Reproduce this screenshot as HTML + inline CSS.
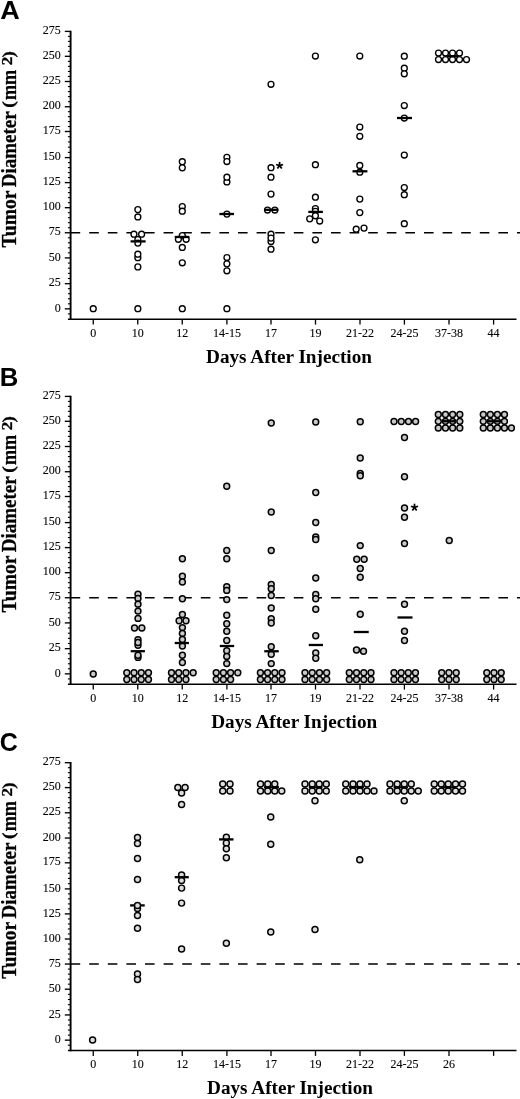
<!DOCTYPE html>
<html><head><meta charset="utf-8"><title>Tumor diameter vs days after injection</title>
<style>
html,body{margin:0;padding:0;background:#fff;}
body{width:520px;height:1099px;overflow:hidden;font-family:"Liberation Serif",serif;}
svg{display:block;filter:grayscale(1);}
.tk{font-family:"Liberation Serif",serif;font-size:12px;fill:#000;stroke:#000;stroke-width:0.1px;}
.xt{font-family:"Liberation Serif",serif;font-weight:bold;font-size:19.2px;fill:#000;}
.yt{font-family:"Liberation Serif",serif;font-weight:bold;fill:#000;stroke:#000;stroke-width:0.3px;}
.pl{font-family:"Liberation Sans",sans-serif;font-weight:bold;font-size:25px;fill:#000;}
.st{font-family:"Liberation Sans",sans-serif;font-weight:bold;font-size:16px;fill:#000;}
</style></head>
<body>
<svg width="520" height="1099" viewBox="0 0 520 1099">
<rect width="520" height="1099" fill="#fff"/>
<g transform="translate(0,0)">
<line x1="70.6" y1="30.7" x2="70.6" y2="320.0" stroke="#000" stroke-width="1.9"/>
<line x1="67.9" y1="319.3" x2="516.5" y2="319.3" stroke="#000" stroke-width="1.45"/>
<line x1="64.8" y1="308.85" x2="70.6" y2="308.85" stroke="#000" stroke-width="1.35"/>
<text x="60.8" y="311.55" text-anchor="end" class="tk">0</text>
<line x1="67.9" y1="303.81" x2="70.6" y2="303.81" stroke="#000" stroke-width="1.1"/>
<line x1="67.9" y1="298.77" x2="70.6" y2="298.77" stroke="#000" stroke-width="1.1"/>
<line x1="67.9" y1="293.73" x2="70.6" y2="293.73" stroke="#000" stroke-width="1.1"/>
<line x1="67.9" y1="288.69" x2="70.6" y2="288.69" stroke="#000" stroke-width="1.1"/>
<line x1="64.8" y1="283.65" x2="70.6" y2="283.65" stroke="#000" stroke-width="1.35"/>
<text x="60.8" y="286.35" text-anchor="end" class="tk">25</text>
<line x1="67.9" y1="278.50" x2="70.6" y2="278.50" stroke="#000" stroke-width="1.1"/>
<line x1="67.9" y1="273.35" x2="70.6" y2="273.35" stroke="#000" stroke-width="1.1"/>
<line x1="67.9" y1="268.20" x2="70.6" y2="268.20" stroke="#000" stroke-width="1.1"/>
<line x1="67.9" y1="263.05" x2="70.6" y2="263.05" stroke="#000" stroke-width="1.1"/>
<line x1="64.8" y1="257.90" x2="70.6" y2="257.90" stroke="#000" stroke-width="1.35"/>
<text x="60.8" y="260.60" text-anchor="end" class="tk">50</text>
<line x1="67.9" y1="252.87" x2="70.6" y2="252.87" stroke="#000" stroke-width="1.1"/>
<line x1="67.9" y1="247.84" x2="70.6" y2="247.84" stroke="#000" stroke-width="1.1"/>
<line x1="67.9" y1="242.81" x2="70.6" y2="242.81" stroke="#000" stroke-width="1.1"/>
<line x1="67.9" y1="237.78" x2="70.6" y2="237.78" stroke="#000" stroke-width="1.1"/>
<line x1="64.8" y1="232.75" x2="70.6" y2="232.75" stroke="#000" stroke-width="1.35"/>
<text x="60.8" y="235.45" text-anchor="end" class="tk">75</text>
<line x1="67.9" y1="227.74" x2="70.6" y2="227.74" stroke="#000" stroke-width="1.1"/>
<line x1="67.9" y1="222.73" x2="70.6" y2="222.73" stroke="#000" stroke-width="1.1"/>
<line x1="67.9" y1="217.72" x2="70.6" y2="217.72" stroke="#000" stroke-width="1.1"/>
<line x1="67.9" y1="212.71" x2="70.6" y2="212.71" stroke="#000" stroke-width="1.1"/>
<line x1="64.8" y1="207.70" x2="70.6" y2="207.70" stroke="#000" stroke-width="1.35"/>
<text x="60.8" y="210.40" text-anchor="end" class="tk">100</text>
<line x1="67.9" y1="202.68" x2="70.6" y2="202.68" stroke="#000" stroke-width="1.1"/>
<line x1="67.9" y1="197.66" x2="70.6" y2="197.66" stroke="#000" stroke-width="1.1"/>
<line x1="67.9" y1="192.64" x2="70.6" y2="192.64" stroke="#000" stroke-width="1.1"/>
<line x1="67.9" y1="187.62" x2="70.6" y2="187.62" stroke="#000" stroke-width="1.1"/>
<line x1="64.8" y1="182.60" x2="70.6" y2="182.60" stroke="#000" stroke-width="1.35"/>
<text x="60.8" y="185.30" text-anchor="end" class="tk">125</text>
<line x1="67.9" y1="177.60" x2="70.6" y2="177.60" stroke="#000" stroke-width="1.1"/>
<line x1="67.9" y1="172.60" x2="70.6" y2="172.60" stroke="#000" stroke-width="1.1"/>
<line x1="67.9" y1="167.60" x2="70.6" y2="167.60" stroke="#000" stroke-width="1.1"/>
<line x1="67.9" y1="162.60" x2="70.6" y2="162.60" stroke="#000" stroke-width="1.1"/>
<line x1="64.8" y1="157.60" x2="70.6" y2="157.60" stroke="#000" stroke-width="1.35"/>
<text x="60.8" y="160.30" text-anchor="end" class="tk">150</text>
<line x1="67.9" y1="152.38" x2="70.6" y2="152.38" stroke="#000" stroke-width="1.1"/>
<line x1="67.9" y1="147.16" x2="70.6" y2="147.16" stroke="#000" stroke-width="1.1"/>
<line x1="67.9" y1="141.94" x2="70.6" y2="141.94" stroke="#000" stroke-width="1.1"/>
<line x1="67.9" y1="136.72" x2="70.6" y2="136.72" stroke="#000" stroke-width="1.1"/>
<line x1="64.8" y1="131.50" x2="70.6" y2="131.50" stroke="#000" stroke-width="1.35"/>
<text x="60.8" y="134.20" text-anchor="end" class="tk">175</text>
<line x1="67.9" y1="126.55" x2="70.6" y2="126.55" stroke="#000" stroke-width="1.1"/>
<line x1="67.9" y1="121.60" x2="70.6" y2="121.60" stroke="#000" stroke-width="1.1"/>
<line x1="67.9" y1="116.65" x2="70.6" y2="116.65" stroke="#000" stroke-width="1.1"/>
<line x1="67.9" y1="111.70" x2="70.6" y2="111.70" stroke="#000" stroke-width="1.1"/>
<line x1="64.8" y1="106.75" x2="70.6" y2="106.75" stroke="#000" stroke-width="1.35"/>
<text x="60.8" y="109.45" text-anchor="end" class="tk">200</text>
<line x1="67.9" y1="101.70" x2="70.6" y2="101.70" stroke="#000" stroke-width="1.1"/>
<line x1="67.9" y1="96.65" x2="70.6" y2="96.65" stroke="#000" stroke-width="1.1"/>
<line x1="67.9" y1="91.60" x2="70.6" y2="91.60" stroke="#000" stroke-width="1.1"/>
<line x1="67.9" y1="86.55" x2="70.6" y2="86.55" stroke="#000" stroke-width="1.1"/>
<line x1="64.8" y1="81.50" x2="70.6" y2="81.50" stroke="#000" stroke-width="1.35"/>
<text x="60.8" y="84.20" text-anchor="end" class="tk">225</text>
<line x1="67.9" y1="76.46" x2="70.6" y2="76.46" stroke="#000" stroke-width="1.1"/>
<line x1="67.9" y1="71.42" x2="70.6" y2="71.42" stroke="#000" stroke-width="1.1"/>
<line x1="67.9" y1="66.38" x2="70.6" y2="66.38" stroke="#000" stroke-width="1.1"/>
<line x1="67.9" y1="61.34" x2="70.6" y2="61.34" stroke="#000" stroke-width="1.1"/>
<line x1="64.8" y1="56.30" x2="70.6" y2="56.30" stroke="#000" stroke-width="1.35"/>
<text x="60.8" y="59.00" text-anchor="end" class="tk">250</text>
<line x1="67.9" y1="51.32" x2="70.6" y2="51.32" stroke="#000" stroke-width="1.1"/>
<line x1="67.9" y1="46.34" x2="70.6" y2="46.34" stroke="#000" stroke-width="1.1"/>
<line x1="67.9" y1="41.36" x2="70.6" y2="41.36" stroke="#000" stroke-width="1.1"/>
<line x1="67.9" y1="36.38" x2="70.6" y2="36.38" stroke="#000" stroke-width="1.1"/>
<line x1="64.8" y1="31.40" x2="70.6" y2="31.40" stroke="#000" stroke-width="1.35"/>
<text x="60.8" y="34.10" text-anchor="end" class="tk">275</text>
<line x1="67.9" y1="313.89" x2="70.6" y2="313.89" stroke="#000" stroke-width="1.1"/>
<line x1="93.25" y1="319.3" x2="93.25" y2="324.6" stroke="#000" stroke-width="1.3"/>
<text x="93.25" y="336.7" text-anchor="middle" class="tk" font-size="12.3">0</text>
<line x1="137.75" y1="319.3" x2="137.75" y2="324.6" stroke="#000" stroke-width="1.3"/>
<text x="137.75" y="336.7" text-anchor="middle" class="tk" font-size="12.3">10</text>
<line x1="182.25" y1="319.3" x2="182.25" y2="324.6" stroke="#000" stroke-width="1.3"/>
<text x="182.25" y="336.7" text-anchor="middle" class="tk" font-size="12.3">12</text>
<line x1="226.9" y1="319.3" x2="226.9" y2="324.6" stroke="#000" stroke-width="1.3"/>
<text x="226.9" y="336.7" text-anchor="middle" class="tk" font-size="12.3">14-15</text>
<line x1="271.0" y1="319.3" x2="271.0" y2="324.6" stroke="#000" stroke-width="1.3"/>
<text x="271.0" y="336.7" text-anchor="middle" class="tk" font-size="12.3">17</text>
<line x1="315.5" y1="319.3" x2="315.5" y2="324.6" stroke="#000" stroke-width="1.3"/>
<text x="315.5" y="336.7" text-anchor="middle" class="tk" font-size="12.3">19</text>
<line x1="360.0" y1="319.3" x2="360.0" y2="324.6" stroke="#000" stroke-width="1.3"/>
<text x="360.0" y="336.7" text-anchor="middle" class="tk" font-size="12.3">21-22</text>
<line x1="404.4" y1="319.3" x2="404.4" y2="324.6" stroke="#000" stroke-width="1.3"/>
<text x="404.4" y="336.7" text-anchor="middle" class="tk" font-size="12.3">24-25</text>
<line x1="449.0" y1="319.3" x2="449.0" y2="324.6" stroke="#000" stroke-width="1.3"/>
<text x="449.0" y="336.7" text-anchor="middle" class="tk" font-size="12.3">37-38</text>
<line x1="493.6" y1="319.3" x2="493.6" y2="324.6" stroke="#000" stroke-width="1.3"/>
<text x="493.6" y="336.7" text-anchor="middle" class="tk" font-size="12.3">44</text>
<line x1="70.6" y1="232.7" x2="520" y2="232.7" stroke="#000" stroke-width="1.5" stroke-dasharray="9.6 9.0"/>
<text x="289" y="363" text-anchor="middle" class="xt">Days After Injection</text>
<text transform="translate(15.90,247.46) rotate(-90) scale(0.9563,1.0)" class="yt" font-size="20.5">Tumor</text>
<text transform="translate(15.90,187.15) rotate(-90) scale(0.9246,1.0)" class="yt" font-size="20.5">Diameter</text>
<text transform="translate(14.22,107.64) rotate(-90) scale(0.9542,0.8655)" class="yt" font-size="20.5">(</text>
<text transform="translate(15.90,100.04) rotate(-90) scale(0.8872,1.0)" class="yt" font-size="20.5">mm</text>
<text transform="translate(12.40,65.15) rotate(-90) scale(1.2153,1.06)" class="yt" font-size="14">2</text>
<text transform="translate(14.22,57.38) rotate(-90) scale(0.9316,0.8655)" class="yt" font-size="20.5">)</text>
</g>
<text transform="translate(0.2,19.30) scale(1.08,1)" class="pl">A</text>
<g transform="translate(0,0)">
</g>
<g transform="translate(0,0)" stroke="#000" stroke-width="1.35">
<circle cx="93.25" cy="308.70" r="2.95" fill="#fff"/>
<circle cx="137.85" cy="209.60" r="2.95" fill="#fff"/>
<circle cx="137.85" cy="216.90" r="2.95" fill="#fff"/>
<circle cx="133.95" cy="234.15" r="2.95" fill="#fff"/>
<circle cx="141.60" cy="234.15" r="2.95" fill="#fff"/>
<circle cx="137.85" cy="239.60" r="2.95" fill="#fff"/>
<circle cx="137.85" cy="243.10" r="2.95" fill="#fff"/>
<circle cx="137.85" cy="257.70" r="2.95" fill="#fff"/>
<circle cx="137.85" cy="254.20" r="2.95" fill="#fff"/>
<circle cx="137.85" cy="266.90" r="2.95" fill="#fff"/>
<circle cx="137.85" cy="308.70" r="2.95" fill="#fff"/>
<circle cx="182.30" cy="161.70" r="2.95" fill="#fff"/>
<circle cx="182.30" cy="167.85" r="2.95" fill="#fff"/>
<circle cx="182.30" cy="206.50" r="2.95" fill="#fff"/>
<circle cx="182.30" cy="211.15" r="2.95" fill="#fff"/>
<circle cx="182.30" cy="235.50" r="2.95" fill="#fff"/>
<circle cx="178.40" cy="239.30" r="2.95" fill="#fff"/>
<circle cx="186.15" cy="239.30" r="2.95" fill="#fff"/>
<circle cx="182.30" cy="247.40" r="2.95" fill="#fff"/>
<circle cx="182.30" cy="262.80" r="2.95" fill="#fff"/>
<circle cx="182.30" cy="308.70" r="2.95" fill="#fff"/>
<circle cx="226.90" cy="157.30" r="2.95" fill="#fff"/>
<circle cx="226.90" cy="161.50" r="2.95" fill="#fff"/>
<circle cx="226.90" cy="181.90" r="2.95" fill="#fff"/>
<circle cx="226.90" cy="177.15" r="2.95" fill="#fff"/>
<circle cx="226.90" cy="214.10" r="2.95" fill="#fff"/>
<circle cx="226.90" cy="257.50" r="2.95" fill="#fff"/>
<circle cx="226.90" cy="263.85" r="2.95" fill="#fff"/>
<circle cx="226.90" cy="270.80" r="2.95" fill="#fff"/>
<circle cx="226.90" cy="308.70" r="2.95" fill="#fff"/>
<circle cx="271.00" cy="84.30" r="2.95" fill="#fff"/>
<circle cx="271.00" cy="167.65" r="2.95" fill="#fff"/>
<circle cx="271.00" cy="177.20" r="2.95" fill="#fff"/>
<circle cx="271.00" cy="194.10" r="2.95" fill="#fff"/>
<circle cx="267.50" cy="210.00" r="2.95" fill="#fff"/>
<circle cx="274.85" cy="210.00" r="2.95" fill="#fff"/>
<circle cx="271.00" cy="234.20" r="2.95" fill="#fff"/>
<circle cx="271.00" cy="241.50" r="2.95" fill="#fff"/>
<circle cx="271.00" cy="238.10" r="2.95" fill="#fff"/>
<circle cx="271.00" cy="249.20" r="2.95" fill="#fff"/>
<circle cx="315.40" cy="56.00" r="2.95" fill="#fff"/>
<circle cx="315.40" cy="164.70" r="2.95" fill="#fff"/>
<circle cx="315.40" cy="197.15" r="2.95" fill="#fff"/>
<circle cx="315.40" cy="208.60" r="2.95" fill="#fff"/>
<circle cx="315.40" cy="211.30" r="2.95" fill="#fff"/>
<circle cx="309.70" cy="218.85" r="2.95" fill="#fff"/>
<circle cx="319.70" cy="221.00" r="2.95" fill="#fff"/>
<circle cx="315.40" cy="215.80" r="2.95" fill="#fff"/>
<circle cx="315.40" cy="239.80" r="2.95" fill="#fff"/>
<circle cx="359.80" cy="56.00" r="2.95" fill="#fff"/>
<circle cx="359.80" cy="127.00" r="2.95" fill="#fff"/>
<circle cx="359.80" cy="136.30" r="2.95" fill="#fff"/>
<circle cx="359.80" cy="172.20" r="2.95" fill="#fff"/>
<circle cx="359.80" cy="165.40" r="2.95" fill="#fff"/>
<circle cx="359.80" cy="199.10" r="2.95" fill="#fff"/>
<circle cx="359.80" cy="212.60" r="2.95" fill="#fff"/>
<circle cx="356.20" cy="229.20" r="2.95" fill="#fff"/>
<circle cx="364.00" cy="228.10" r="2.95" fill="#fff"/>
<circle cx="404.30" cy="56.20" r="2.95" fill="#fff"/>
<circle cx="404.30" cy="68.20" r="2.95" fill="#fff"/>
<circle cx="404.30" cy="73.80" r="2.95" fill="#fff"/>
<circle cx="404.30" cy="105.50" r="2.95" fill="#fff"/>
<circle cx="404.30" cy="118.00" r="2.95" fill="#fff"/>
<circle cx="404.30" cy="155.00" r="2.95" fill="#fff"/>
<circle cx="404.30" cy="187.50" r="2.95" fill="#fff"/>
<circle cx="404.30" cy="194.70" r="2.95" fill="#fff"/>
<circle cx="404.30" cy="223.70" r="2.95" fill="#fff"/>
<circle cx="438.50" cy="53.00" r="2.95" fill="#fff"/>
<circle cx="445.50" cy="53.00" r="2.95" fill="#fff"/>
<circle cx="452.50" cy="53.00" r="2.95" fill="#fff"/>
<circle cx="459.50" cy="53.00" r="2.95" fill="#fff"/>
<circle cx="438.50" cy="59.50" r="2.95" fill="#fff"/>
<circle cx="445.50" cy="59.50" r="2.95" fill="#fff"/>
<circle cx="452.50" cy="59.50" r="2.95" fill="#fff"/>
<circle cx="459.50" cy="59.50" r="2.95" fill="#fff"/>
<circle cx="466.50" cy="59.50" r="2.95" fill="#fff"/>
</g>
<g transform="translate(0,0)">
<line x1="130.60" y1="241.40" x2="145.60" y2="241.40" stroke="#000" stroke-width="2.3"/>
<line x1="174.70" y1="237.00" x2="189.40" y2="237.00" stroke="#000" stroke-width="2.3"/>
<line x1="219.40" y1="214.00" x2="234.00" y2="214.00" stroke="#000" stroke-width="2.3"/>
<line x1="264.50" y1="209.80" x2="278.40" y2="209.80" stroke="#000" stroke-width="2.3"/>
<line x1="308.30" y1="211.90" x2="322.90" y2="211.90" stroke="#000" stroke-width="2.3"/>
<line x1="352.50" y1="171.30" x2="367.40" y2="171.30" stroke="#000" stroke-width="2.3"/>
<line x1="397.00" y1="118.00" x2="412.00" y2="118.00" stroke="#000" stroke-width="2.3"/>
<line x1="447.00" y1="56.20" x2="458.00" y2="56.20" stroke="#000" stroke-width="2.3"/>
<line x1="279.60" y1="165.60" x2="279.60" y2="161.90" stroke="#000" stroke-width="1.75" stroke-linecap="butt"/>
<line x1="279.60" y1="165.60" x2="283.12" y2="164.46" stroke="#000" stroke-width="1.75" stroke-linecap="butt"/>
<line x1="279.60" y1="165.60" x2="281.77" y2="168.59" stroke="#000" stroke-width="1.75" stroke-linecap="butt"/>
<line x1="279.60" y1="165.60" x2="277.43" y2="168.59" stroke="#000" stroke-width="1.75" stroke-linecap="butt"/>
<line x1="279.60" y1="165.60" x2="276.08" y2="164.46" stroke="#000" stroke-width="1.75" stroke-linecap="butt"/>
</g>
<g transform="translate(0,365.0)">
<line x1="70.6" y1="30.7" x2="70.6" y2="320.0" stroke="#000" stroke-width="1.9"/>
<line x1="67.9" y1="319.3" x2="516.5" y2="319.3" stroke="#000" stroke-width="1.45"/>
<line x1="64.8" y1="308.85" x2="70.6" y2="308.85" stroke="#000" stroke-width="1.35"/>
<text x="60.8" y="311.55" text-anchor="end" class="tk">0</text>
<line x1="67.9" y1="303.81" x2="70.6" y2="303.81" stroke="#000" stroke-width="1.1"/>
<line x1="67.9" y1="298.77" x2="70.6" y2="298.77" stroke="#000" stroke-width="1.1"/>
<line x1="67.9" y1="293.73" x2="70.6" y2="293.73" stroke="#000" stroke-width="1.1"/>
<line x1="67.9" y1="288.69" x2="70.6" y2="288.69" stroke="#000" stroke-width="1.1"/>
<line x1="64.8" y1="283.65" x2="70.6" y2="283.65" stroke="#000" stroke-width="1.35"/>
<text x="60.8" y="286.35" text-anchor="end" class="tk">25</text>
<line x1="67.9" y1="278.50" x2="70.6" y2="278.50" stroke="#000" stroke-width="1.1"/>
<line x1="67.9" y1="273.35" x2="70.6" y2="273.35" stroke="#000" stroke-width="1.1"/>
<line x1="67.9" y1="268.20" x2="70.6" y2="268.20" stroke="#000" stroke-width="1.1"/>
<line x1="67.9" y1="263.05" x2="70.6" y2="263.05" stroke="#000" stroke-width="1.1"/>
<line x1="64.8" y1="257.90" x2="70.6" y2="257.90" stroke="#000" stroke-width="1.35"/>
<text x="60.8" y="260.60" text-anchor="end" class="tk">50</text>
<line x1="67.9" y1="252.87" x2="70.6" y2="252.87" stroke="#000" stroke-width="1.1"/>
<line x1="67.9" y1="247.84" x2="70.6" y2="247.84" stroke="#000" stroke-width="1.1"/>
<line x1="67.9" y1="242.81" x2="70.6" y2="242.81" stroke="#000" stroke-width="1.1"/>
<line x1="67.9" y1="237.78" x2="70.6" y2="237.78" stroke="#000" stroke-width="1.1"/>
<line x1="64.8" y1="232.75" x2="70.6" y2="232.75" stroke="#000" stroke-width="1.35"/>
<text x="60.8" y="235.45" text-anchor="end" class="tk">75</text>
<line x1="67.9" y1="227.74" x2="70.6" y2="227.74" stroke="#000" stroke-width="1.1"/>
<line x1="67.9" y1="222.73" x2="70.6" y2="222.73" stroke="#000" stroke-width="1.1"/>
<line x1="67.9" y1="217.72" x2="70.6" y2="217.72" stroke="#000" stroke-width="1.1"/>
<line x1="67.9" y1="212.71" x2="70.6" y2="212.71" stroke="#000" stroke-width="1.1"/>
<line x1="64.8" y1="207.70" x2="70.6" y2="207.70" stroke="#000" stroke-width="1.35"/>
<text x="60.8" y="210.40" text-anchor="end" class="tk">100</text>
<line x1="67.9" y1="202.68" x2="70.6" y2="202.68" stroke="#000" stroke-width="1.1"/>
<line x1="67.9" y1="197.66" x2="70.6" y2="197.66" stroke="#000" stroke-width="1.1"/>
<line x1="67.9" y1="192.64" x2="70.6" y2="192.64" stroke="#000" stroke-width="1.1"/>
<line x1="67.9" y1="187.62" x2="70.6" y2="187.62" stroke="#000" stroke-width="1.1"/>
<line x1="64.8" y1="182.60" x2="70.6" y2="182.60" stroke="#000" stroke-width="1.35"/>
<text x="60.8" y="185.30" text-anchor="end" class="tk">125</text>
<line x1="67.9" y1="177.60" x2="70.6" y2="177.60" stroke="#000" stroke-width="1.1"/>
<line x1="67.9" y1="172.60" x2="70.6" y2="172.60" stroke="#000" stroke-width="1.1"/>
<line x1="67.9" y1="167.60" x2="70.6" y2="167.60" stroke="#000" stroke-width="1.1"/>
<line x1="67.9" y1="162.60" x2="70.6" y2="162.60" stroke="#000" stroke-width="1.1"/>
<line x1="64.8" y1="157.60" x2="70.6" y2="157.60" stroke="#000" stroke-width="1.35"/>
<text x="60.8" y="160.30" text-anchor="end" class="tk">150</text>
<line x1="67.9" y1="152.38" x2="70.6" y2="152.38" stroke="#000" stroke-width="1.1"/>
<line x1="67.9" y1="147.16" x2="70.6" y2="147.16" stroke="#000" stroke-width="1.1"/>
<line x1="67.9" y1="141.94" x2="70.6" y2="141.94" stroke="#000" stroke-width="1.1"/>
<line x1="67.9" y1="136.72" x2="70.6" y2="136.72" stroke="#000" stroke-width="1.1"/>
<line x1="64.8" y1="131.50" x2="70.6" y2="131.50" stroke="#000" stroke-width="1.35"/>
<text x="60.8" y="134.20" text-anchor="end" class="tk">175</text>
<line x1="67.9" y1="126.55" x2="70.6" y2="126.55" stroke="#000" stroke-width="1.1"/>
<line x1="67.9" y1="121.60" x2="70.6" y2="121.60" stroke="#000" stroke-width="1.1"/>
<line x1="67.9" y1="116.65" x2="70.6" y2="116.65" stroke="#000" stroke-width="1.1"/>
<line x1="67.9" y1="111.70" x2="70.6" y2="111.70" stroke="#000" stroke-width="1.1"/>
<line x1="64.8" y1="106.75" x2="70.6" y2="106.75" stroke="#000" stroke-width="1.35"/>
<text x="60.8" y="109.45" text-anchor="end" class="tk">200</text>
<line x1="67.9" y1="101.70" x2="70.6" y2="101.70" stroke="#000" stroke-width="1.1"/>
<line x1="67.9" y1="96.65" x2="70.6" y2="96.65" stroke="#000" stroke-width="1.1"/>
<line x1="67.9" y1="91.60" x2="70.6" y2="91.60" stroke="#000" stroke-width="1.1"/>
<line x1="67.9" y1="86.55" x2="70.6" y2="86.55" stroke="#000" stroke-width="1.1"/>
<line x1="64.8" y1="81.50" x2="70.6" y2="81.50" stroke="#000" stroke-width="1.35"/>
<text x="60.8" y="84.20" text-anchor="end" class="tk">225</text>
<line x1="67.9" y1="76.46" x2="70.6" y2="76.46" stroke="#000" stroke-width="1.1"/>
<line x1="67.9" y1="71.42" x2="70.6" y2="71.42" stroke="#000" stroke-width="1.1"/>
<line x1="67.9" y1="66.38" x2="70.6" y2="66.38" stroke="#000" stroke-width="1.1"/>
<line x1="67.9" y1="61.34" x2="70.6" y2="61.34" stroke="#000" stroke-width="1.1"/>
<line x1="64.8" y1="56.30" x2="70.6" y2="56.30" stroke="#000" stroke-width="1.35"/>
<text x="60.8" y="59.00" text-anchor="end" class="tk">250</text>
<line x1="67.9" y1="51.32" x2="70.6" y2="51.32" stroke="#000" stroke-width="1.1"/>
<line x1="67.9" y1="46.34" x2="70.6" y2="46.34" stroke="#000" stroke-width="1.1"/>
<line x1="67.9" y1="41.36" x2="70.6" y2="41.36" stroke="#000" stroke-width="1.1"/>
<line x1="67.9" y1="36.38" x2="70.6" y2="36.38" stroke="#000" stroke-width="1.1"/>
<line x1="64.8" y1="31.40" x2="70.6" y2="31.40" stroke="#000" stroke-width="1.35"/>
<text x="60.8" y="34.10" text-anchor="end" class="tk">275</text>
<line x1="67.9" y1="313.89" x2="70.6" y2="313.89" stroke="#000" stroke-width="1.1"/>
<line x1="93.25" y1="319.3" x2="93.25" y2="324.6" stroke="#000" stroke-width="1.3"/>
<text x="93.25" y="336.7" text-anchor="middle" class="tk" font-size="12.3">0</text>
<line x1="137.75" y1="319.3" x2="137.75" y2="324.6" stroke="#000" stroke-width="1.3"/>
<text x="137.75" y="336.7" text-anchor="middle" class="tk" font-size="12.3">10</text>
<line x1="182.25" y1="319.3" x2="182.25" y2="324.6" stroke="#000" stroke-width="1.3"/>
<text x="182.25" y="336.7" text-anchor="middle" class="tk" font-size="12.3">12</text>
<line x1="226.9" y1="319.3" x2="226.9" y2="324.6" stroke="#000" stroke-width="1.3"/>
<text x="226.9" y="336.7" text-anchor="middle" class="tk" font-size="12.3">14-15</text>
<line x1="271.0" y1="319.3" x2="271.0" y2="324.6" stroke="#000" stroke-width="1.3"/>
<text x="271.0" y="336.7" text-anchor="middle" class="tk" font-size="12.3">17</text>
<line x1="315.5" y1="319.3" x2="315.5" y2="324.6" stroke="#000" stroke-width="1.3"/>
<text x="315.5" y="336.7" text-anchor="middle" class="tk" font-size="12.3">19</text>
<line x1="360.0" y1="319.3" x2="360.0" y2="324.6" stroke="#000" stroke-width="1.3"/>
<text x="360.0" y="336.7" text-anchor="middle" class="tk" font-size="12.3">21-22</text>
<line x1="404.4" y1="319.3" x2="404.4" y2="324.6" stroke="#000" stroke-width="1.3"/>
<text x="404.4" y="336.7" text-anchor="middle" class="tk" font-size="12.3">24-25</text>
<line x1="449.0" y1="319.3" x2="449.0" y2="324.6" stroke="#000" stroke-width="1.3"/>
<text x="449.0" y="336.7" text-anchor="middle" class="tk" font-size="12.3">37-38</text>
<line x1="493.6" y1="319.3" x2="493.6" y2="324.6" stroke="#000" stroke-width="1.3"/>
<text x="493.6" y="336.7" text-anchor="middle" class="tk" font-size="12.3">44</text>
<line x1="70.6" y1="232.7" x2="520" y2="232.7" stroke="#000" stroke-width="1.5" stroke-dasharray="9.6 9.0"/>
<text x="294.2" y="363" text-anchor="middle" class="xt">Days After Injection</text>
<text transform="translate(15.90,247.46) rotate(-90) scale(0.9563,1.0)" class="yt" font-size="20.5">Tumor</text>
<text transform="translate(15.90,187.15) rotate(-90) scale(0.9246,1.0)" class="yt" font-size="20.5">Diameter</text>
<text transform="translate(14.22,107.64) rotate(-90) scale(0.9542,0.8655)" class="yt" font-size="20.5">(</text>
<text transform="translate(15.90,100.04) rotate(-90) scale(0.8872,1.0)" class="yt" font-size="20.5">mm</text>
<text transform="translate(12.40,65.15) rotate(-90) scale(1.2153,1.06)" class="yt" font-size="14">2</text>
<text transform="translate(14.22,57.38) rotate(-90) scale(0.9316,0.8655)" class="yt" font-size="20.5">)</text>
</g>
<text transform="translate(-0.3,385.70) scale(1.03,1)" class="pl">B</text>
<g transform="translate(0,365.5)">
</g>
<g transform="translate(0,365.5)" stroke="#000" stroke-width="1.5">
<circle cx="93.25" cy="308.50" r="2.95" fill="#cacaca"/>
<circle cx="138.00" cy="228.65" r="2.95" fill="#cacaca"/>
<circle cx="138.00" cy="232.90" r="2.95" fill="#cacaca"/>
<circle cx="138.00" cy="238.65" r="2.95" fill="#cacaca"/>
<circle cx="138.00" cy="245.60" r="2.95" fill="#cacaca"/>
<circle cx="138.00" cy="252.90" r="2.95" fill="#cacaca"/>
<circle cx="134.50" cy="262.50" r="2.95" fill="#cacaca"/>
<circle cx="141.85" cy="262.50" r="2.95" fill="#cacaca"/>
<circle cx="138.00" cy="274.10" r="2.95" fill="#cacaca"/>
<circle cx="138.00" cy="279.80" r="2.95" fill="#cacaca"/>
<circle cx="138.00" cy="277.00" r="2.95" fill="#cacaca"/>
<circle cx="138.00" cy="291.90" r="2.95" fill="#cacaca"/>
<circle cx="138.00" cy="289.80" r="2.95" fill="#cacaca"/>
<circle cx="126.80" cy="307.20" r="2.95" fill="#cacaca"/>
<circle cx="134.02" cy="307.20" r="2.95" fill="#cacaca"/>
<circle cx="141.24" cy="307.20" r="2.95" fill="#cacaca"/>
<circle cx="148.46" cy="307.20" r="2.95" fill="#cacaca"/>
<circle cx="126.80" cy="314.05" r="2.95" fill="#cacaca"/>
<circle cx="134.02" cy="314.05" r="2.95" fill="#cacaca"/>
<circle cx="141.24" cy="314.05" r="2.95" fill="#cacaca"/>
<circle cx="148.46" cy="314.05" r="2.95" fill="#cacaca"/>
<circle cx="182.40" cy="193.25" r="2.95" fill="#cacaca"/>
<circle cx="182.40" cy="210.75" r="2.95" fill="#cacaca"/>
<circle cx="182.40" cy="216.50" r="2.95" fill="#cacaca"/>
<circle cx="182.40" cy="233.30" r="2.95" fill="#cacaca"/>
<circle cx="182.40" cy="249.00" r="2.95" fill="#cacaca"/>
<circle cx="179.10" cy="255.20" r="2.95" fill="#cacaca"/>
<circle cx="186.00" cy="255.20" r="2.95" fill="#cacaca"/>
<circle cx="182.40" cy="262.10" r="2.95" fill="#cacaca"/>
<circle cx="182.40" cy="267.90" r="2.95" fill="#cacaca"/>
<circle cx="182.40" cy="274.00" r="2.95" fill="#cacaca"/>
<circle cx="182.40" cy="280.60" r="2.95" fill="#cacaca"/>
<circle cx="182.40" cy="289.80" r="2.95" fill="#cacaca"/>
<circle cx="182.40" cy="297.00" r="2.95" fill="#cacaca"/>
<circle cx="171.50" cy="307.20" r="2.95" fill="#cacaca"/>
<circle cx="178.72" cy="307.20" r="2.95" fill="#cacaca"/>
<circle cx="185.94" cy="307.20" r="2.95" fill="#cacaca"/>
<circle cx="193.16" cy="307.20" r="2.95" fill="#cacaca"/>
<circle cx="171.50" cy="314.05" r="2.95" fill="#cacaca"/>
<circle cx="178.72" cy="314.05" r="2.95" fill="#cacaca"/>
<circle cx="185.94" cy="314.05" r="2.95" fill="#cacaca"/>
<circle cx="226.75" cy="120.75" r="2.95" fill="#cacaca"/>
<circle cx="226.75" cy="185.00" r="2.95" fill="#cacaca"/>
<circle cx="226.75" cy="193.25" r="2.95" fill="#cacaca"/>
<circle cx="226.75" cy="221.30" r="2.95" fill="#cacaca"/>
<circle cx="226.75" cy="224.90" r="2.95" fill="#cacaca"/>
<circle cx="226.75" cy="234.10" r="2.95" fill="#cacaca"/>
<circle cx="226.75" cy="249.70" r="2.95" fill="#cacaca"/>
<circle cx="226.75" cy="258.30" r="2.95" fill="#cacaca"/>
<circle cx="226.75" cy="265.70" r="2.95" fill="#cacaca"/>
<circle cx="226.75" cy="274.90" r="2.95" fill="#cacaca"/>
<circle cx="226.75" cy="285.30" r="2.95" fill="#cacaca"/>
<circle cx="226.75" cy="290.90" r="2.95" fill="#cacaca"/>
<circle cx="226.75" cy="298.10" r="2.95" fill="#cacaca"/>
<circle cx="216.20" cy="307.20" r="2.95" fill="#cacaca"/>
<circle cx="223.40" cy="307.20" r="2.95" fill="#cacaca"/>
<circle cx="230.60" cy="307.20" r="2.95" fill="#cacaca"/>
<circle cx="237.80" cy="307.20" r="2.95" fill="#cacaca"/>
<circle cx="216.20" cy="314.05" r="2.95" fill="#cacaca"/>
<circle cx="223.40" cy="314.05" r="2.95" fill="#cacaca"/>
<circle cx="230.60" cy="314.05" r="2.95" fill="#cacaca"/>
<circle cx="271.25" cy="57.50" r="2.95" fill="#cacaca"/>
<circle cx="271.25" cy="146.50" r="2.95" fill="#cacaca"/>
<circle cx="271.25" cy="185.00" r="2.95" fill="#cacaca"/>
<circle cx="271.25" cy="219.00" r="2.95" fill="#cacaca"/>
<circle cx="271.25" cy="223.25" r="2.95" fill="#cacaca"/>
<circle cx="271.25" cy="230.00" r="2.95" fill="#cacaca"/>
<circle cx="271.25" cy="242.50" r="2.95" fill="#cacaca"/>
<circle cx="271.25" cy="253.25" r="2.95" fill="#cacaca"/>
<circle cx="271.25" cy="257.50" r="2.95" fill="#cacaca"/>
<circle cx="271.25" cy="281.20" r="2.95" fill="#cacaca"/>
<circle cx="271.25" cy="288.70" r="2.95" fill="#cacaca"/>
<circle cx="271.25" cy="298.10" r="2.95" fill="#cacaca"/>
<circle cx="260.40" cy="307.20" r="2.95" fill="#cacaca"/>
<circle cx="267.60" cy="307.20" r="2.95" fill="#cacaca"/>
<circle cx="274.80" cy="307.20" r="2.95" fill="#cacaca"/>
<circle cx="282.00" cy="307.20" r="2.95" fill="#cacaca"/>
<circle cx="260.40" cy="314.05" r="2.95" fill="#cacaca"/>
<circle cx="267.60" cy="314.05" r="2.95" fill="#cacaca"/>
<circle cx="274.80" cy="314.05" r="2.95" fill="#cacaca"/>
<circle cx="282.00" cy="314.05" r="2.95" fill="#cacaca"/>
<circle cx="315.75" cy="56.50" r="2.95" fill="#cacaca"/>
<circle cx="315.75" cy="127.00" r="2.95" fill="#cacaca"/>
<circle cx="315.75" cy="157.00" r="2.95" fill="#cacaca"/>
<circle cx="315.75" cy="171.50" r="2.95" fill="#cacaca"/>
<circle cx="315.75" cy="174.00" r="2.95" fill="#cacaca"/>
<circle cx="315.75" cy="212.50" r="2.95" fill="#cacaca"/>
<circle cx="315.75" cy="229.00" r="2.95" fill="#cacaca"/>
<circle cx="315.75" cy="233.25" r="2.95" fill="#cacaca"/>
<circle cx="315.75" cy="243.75" r="2.95" fill="#cacaca"/>
<circle cx="315.75" cy="270.25" r="2.95" fill="#cacaca"/>
<circle cx="315.75" cy="287.50" r="2.95" fill="#cacaca"/>
<circle cx="315.75" cy="292.75" r="2.95" fill="#cacaca"/>
<circle cx="305.00" cy="307.20" r="2.95" fill="#cacaca"/>
<circle cx="312.22" cy="307.20" r="2.95" fill="#cacaca"/>
<circle cx="319.44" cy="307.20" r="2.95" fill="#cacaca"/>
<circle cx="326.66" cy="307.20" r="2.95" fill="#cacaca"/>
<circle cx="305.00" cy="314.05" r="2.95" fill="#cacaca"/>
<circle cx="312.22" cy="314.05" r="2.95" fill="#cacaca"/>
<circle cx="319.44" cy="314.05" r="2.95" fill="#cacaca"/>
<circle cx="326.66" cy="314.05" r="2.95" fill="#cacaca"/>
<circle cx="360.25" cy="56.25" r="2.95" fill="#cacaca"/>
<circle cx="360.25" cy="92.50" r="2.95" fill="#cacaca"/>
<circle cx="360.25" cy="108.00" r="2.95" fill="#cacaca"/>
<circle cx="360.25" cy="110.25" r="2.95" fill="#cacaca"/>
<circle cx="360.25" cy="180.10" r="2.95" fill="#cacaca"/>
<circle cx="356.75" cy="193.75" r="2.95" fill="#cacaca"/>
<circle cx="364.15" cy="193.75" r="2.95" fill="#cacaca"/>
<circle cx="360.25" cy="203.00" r="2.95" fill="#cacaca"/>
<circle cx="360.25" cy="211.70" r="2.95" fill="#cacaca"/>
<circle cx="360.25" cy="248.75" r="2.95" fill="#cacaca"/>
<circle cx="356.50" cy="284.50" r="2.95" fill="#cacaca"/>
<circle cx="363.50" cy="285.75" r="2.95" fill="#cacaca"/>
<circle cx="349.30" cy="307.20" r="2.95" fill="#cacaca"/>
<circle cx="356.53" cy="307.20" r="2.95" fill="#cacaca"/>
<circle cx="363.76" cy="307.20" r="2.95" fill="#cacaca"/>
<circle cx="370.99" cy="307.20" r="2.95" fill="#cacaca"/>
<circle cx="349.30" cy="314.05" r="2.95" fill="#cacaca"/>
<circle cx="356.53" cy="314.05" r="2.95" fill="#cacaca"/>
<circle cx="363.76" cy="314.05" r="2.95" fill="#cacaca"/>
<circle cx="370.99" cy="314.05" r="2.95" fill="#cacaca"/>
<circle cx="404.50" cy="72.00" r="2.95" fill="#cacaca"/>
<circle cx="404.50" cy="111.25" r="2.95" fill="#cacaca"/>
<circle cx="404.50" cy="142.50" r="2.95" fill="#cacaca"/>
<circle cx="404.50" cy="151.75" r="2.95" fill="#cacaca"/>
<circle cx="404.50" cy="178.00" r="2.95" fill="#cacaca"/>
<circle cx="404.50" cy="238.75" r="2.95" fill="#cacaca"/>
<circle cx="404.50" cy="265.75" r="2.95" fill="#cacaca"/>
<circle cx="404.50" cy="275.00" r="2.95" fill="#cacaca"/>
<circle cx="394.00" cy="56.00" r="2.95" fill="#cacaca"/>
<circle cx="401.25" cy="56.00" r="2.95" fill="#cacaca"/>
<circle cx="408.50" cy="56.00" r="2.95" fill="#cacaca"/>
<circle cx="415.60" cy="56.00" r="2.95" fill="#cacaca"/>
<circle cx="394.00" cy="307.20" r="2.95" fill="#cacaca"/>
<circle cx="401.15" cy="307.20" r="2.95" fill="#cacaca"/>
<circle cx="408.30" cy="307.20" r="2.95" fill="#cacaca"/>
<circle cx="415.45" cy="307.20" r="2.95" fill="#cacaca"/>
<circle cx="394.00" cy="314.05" r="2.95" fill="#cacaca"/>
<circle cx="401.15" cy="314.05" r="2.95" fill="#cacaca"/>
<circle cx="408.30" cy="314.05" r="2.95" fill="#cacaca"/>
<circle cx="415.45" cy="314.05" r="2.95" fill="#cacaca"/>
<circle cx="438.30" cy="49.00" r="2.95" fill="#cacaca"/>
<circle cx="445.47" cy="49.00" r="2.95" fill="#cacaca"/>
<circle cx="452.64" cy="49.00" r="2.95" fill="#cacaca"/>
<circle cx="459.81" cy="49.00" r="2.95" fill="#cacaca"/>
<circle cx="438.30" cy="55.85" r="2.95" fill="#cacaca"/>
<circle cx="445.47" cy="55.85" r="2.95" fill="#cacaca"/>
<circle cx="452.64" cy="55.85" r="2.95" fill="#cacaca"/>
<circle cx="459.81" cy="55.85" r="2.95" fill="#cacaca"/>
<circle cx="438.30" cy="62.50" r="2.95" fill="#cacaca"/>
<circle cx="445.47" cy="62.50" r="2.95" fill="#cacaca"/>
<circle cx="452.64" cy="62.50" r="2.95" fill="#cacaca"/>
<circle cx="459.81" cy="62.50" r="2.95" fill="#cacaca"/>
<circle cx="449.25" cy="175.00" r="2.95" fill="#cacaca"/>
<circle cx="441.70" cy="307.20" r="2.95" fill="#cacaca"/>
<circle cx="448.95" cy="307.20" r="2.95" fill="#cacaca"/>
<circle cx="456.20" cy="307.20" r="2.95" fill="#cacaca"/>
<circle cx="441.70" cy="314.05" r="2.95" fill="#cacaca"/>
<circle cx="448.95" cy="314.05" r="2.95" fill="#cacaca"/>
<circle cx="456.20" cy="314.05" r="2.95" fill="#cacaca"/>
<circle cx="483.30" cy="49.00" r="2.95" fill="#cacaca"/>
<circle cx="490.35" cy="49.00" r="2.95" fill="#cacaca"/>
<circle cx="497.40" cy="49.00" r="2.95" fill="#cacaca"/>
<circle cx="504.45" cy="49.00" r="2.95" fill="#cacaca"/>
<circle cx="483.30" cy="55.85" r="2.95" fill="#cacaca"/>
<circle cx="490.35" cy="55.85" r="2.95" fill="#cacaca"/>
<circle cx="497.40" cy="55.85" r="2.95" fill="#cacaca"/>
<circle cx="504.45" cy="55.85" r="2.95" fill="#cacaca"/>
<circle cx="483.30" cy="62.50" r="2.95" fill="#cacaca"/>
<circle cx="490.35" cy="62.50" r="2.95" fill="#cacaca"/>
<circle cx="497.40" cy="62.50" r="2.95" fill="#cacaca"/>
<circle cx="504.45" cy="62.50" r="2.95" fill="#cacaca"/>
<circle cx="511.40" cy="62.50" r="2.95" fill="#cacaca"/>
<circle cx="486.80" cy="307.20" r="2.95" fill="#cacaca"/>
<circle cx="494.00" cy="307.20" r="2.95" fill="#cacaca"/>
<circle cx="501.20" cy="307.20" r="2.95" fill="#cacaca"/>
<circle cx="486.80" cy="314.05" r="2.95" fill="#cacaca"/>
<circle cx="494.00" cy="314.05" r="2.95" fill="#cacaca"/>
<circle cx="501.20" cy="314.05" r="2.95" fill="#cacaca"/>
</g>
<g transform="translate(0,365.5)">
<line x1="130.70" y1="285.70" x2="144.90" y2="285.70" stroke="#000" stroke-width="2.3"/>
<line x1="174.70" y1="277.50" x2="188.90" y2="277.50" stroke="#000" stroke-width="2.3"/>
<line x1="219.80" y1="280.50" x2="234.20" y2="280.50" stroke="#000" stroke-width="2.3"/>
<line x1="264.25" y1="285.75" x2="278.75" y2="285.75" stroke="#000" stroke-width="2.3"/>
<line x1="308.75" y1="279.50" x2="323.00" y2="279.50" stroke="#000" stroke-width="2.3"/>
<line x1="353.75" y1="266.50" x2="368.75" y2="266.50" stroke="#000" stroke-width="2.3"/>
<line x1="397.50" y1="252.00" x2="412.50" y2="252.00" stroke="#000" stroke-width="2.3"/>
<line x1="442.50" y1="55.75" x2="456.00" y2="55.75" stroke="#000" stroke-width="2.3"/>
<line x1="487.50" y1="55.75" x2="501.00" y2="55.75" stroke="#000" stroke-width="2.3"/>
<line x1="414.50" y1="141.90" x2="414.50" y2="138.20" stroke="#000" stroke-width="1.75" stroke-linecap="butt"/>
<line x1="414.50" y1="141.90" x2="418.02" y2="140.76" stroke="#000" stroke-width="1.75" stroke-linecap="butt"/>
<line x1="414.50" y1="141.90" x2="416.67" y2="144.89" stroke="#000" stroke-width="1.75" stroke-linecap="butt"/>
<line x1="414.50" y1="141.90" x2="412.33" y2="144.89" stroke="#000" stroke-width="1.75" stroke-linecap="butt"/>
<line x1="414.50" y1="141.90" x2="410.98" y2="140.76" stroke="#000" stroke-width="1.75" stroke-linecap="butt"/>
</g>
<g transform="translate(0,731.3)">
<line x1="70.6" y1="30.7" x2="70.6" y2="320.0" stroke="#000" stroke-width="1.9"/>
<line x1="67.9" y1="319.3" x2="516.5" y2="319.3" stroke="#000" stroke-width="1.45"/>
<line x1="64.8" y1="308.85" x2="70.6" y2="308.85" stroke="#000" stroke-width="1.35"/>
<text x="60.8" y="311.55" text-anchor="end" class="tk">0</text>
<line x1="67.9" y1="303.81" x2="70.6" y2="303.81" stroke="#000" stroke-width="1.1"/>
<line x1="67.9" y1="298.77" x2="70.6" y2="298.77" stroke="#000" stroke-width="1.1"/>
<line x1="67.9" y1="293.73" x2="70.6" y2="293.73" stroke="#000" stroke-width="1.1"/>
<line x1="67.9" y1="288.69" x2="70.6" y2="288.69" stroke="#000" stroke-width="1.1"/>
<line x1="64.8" y1="283.65" x2="70.6" y2="283.65" stroke="#000" stroke-width="1.35"/>
<text x="60.8" y="286.35" text-anchor="end" class="tk">25</text>
<line x1="67.9" y1="278.50" x2="70.6" y2="278.50" stroke="#000" stroke-width="1.1"/>
<line x1="67.9" y1="273.35" x2="70.6" y2="273.35" stroke="#000" stroke-width="1.1"/>
<line x1="67.9" y1="268.20" x2="70.6" y2="268.20" stroke="#000" stroke-width="1.1"/>
<line x1="67.9" y1="263.05" x2="70.6" y2="263.05" stroke="#000" stroke-width="1.1"/>
<line x1="64.8" y1="257.90" x2="70.6" y2="257.90" stroke="#000" stroke-width="1.35"/>
<text x="60.8" y="260.60" text-anchor="end" class="tk">50</text>
<line x1="67.9" y1="252.87" x2="70.6" y2="252.87" stroke="#000" stroke-width="1.1"/>
<line x1="67.9" y1="247.84" x2="70.6" y2="247.84" stroke="#000" stroke-width="1.1"/>
<line x1="67.9" y1="242.81" x2="70.6" y2="242.81" stroke="#000" stroke-width="1.1"/>
<line x1="67.9" y1="237.78" x2="70.6" y2="237.78" stroke="#000" stroke-width="1.1"/>
<line x1="64.8" y1="232.75" x2="70.6" y2="232.75" stroke="#000" stroke-width="1.35"/>
<text x="60.8" y="235.45" text-anchor="end" class="tk">75</text>
<line x1="67.9" y1="227.74" x2="70.6" y2="227.74" stroke="#000" stroke-width="1.1"/>
<line x1="67.9" y1="222.73" x2="70.6" y2="222.73" stroke="#000" stroke-width="1.1"/>
<line x1="67.9" y1="217.72" x2="70.6" y2="217.72" stroke="#000" stroke-width="1.1"/>
<line x1="67.9" y1="212.71" x2="70.6" y2="212.71" stroke="#000" stroke-width="1.1"/>
<line x1="64.8" y1="207.70" x2="70.6" y2="207.70" stroke="#000" stroke-width="1.35"/>
<text x="60.8" y="210.40" text-anchor="end" class="tk">100</text>
<line x1="67.9" y1="202.68" x2="70.6" y2="202.68" stroke="#000" stroke-width="1.1"/>
<line x1="67.9" y1="197.66" x2="70.6" y2="197.66" stroke="#000" stroke-width="1.1"/>
<line x1="67.9" y1="192.64" x2="70.6" y2="192.64" stroke="#000" stroke-width="1.1"/>
<line x1="67.9" y1="187.62" x2="70.6" y2="187.62" stroke="#000" stroke-width="1.1"/>
<line x1="64.8" y1="182.60" x2="70.6" y2="182.60" stroke="#000" stroke-width="1.35"/>
<text x="60.8" y="185.30" text-anchor="end" class="tk">125</text>
<line x1="67.9" y1="177.60" x2="70.6" y2="177.60" stroke="#000" stroke-width="1.1"/>
<line x1="67.9" y1="172.60" x2="70.6" y2="172.60" stroke="#000" stroke-width="1.1"/>
<line x1="67.9" y1="167.60" x2="70.6" y2="167.60" stroke="#000" stroke-width="1.1"/>
<line x1="67.9" y1="162.60" x2="70.6" y2="162.60" stroke="#000" stroke-width="1.1"/>
<line x1="64.8" y1="157.60" x2="70.6" y2="157.60" stroke="#000" stroke-width="1.35"/>
<text x="60.8" y="160.30" text-anchor="end" class="tk">150</text>
<line x1="67.9" y1="152.38" x2="70.6" y2="152.38" stroke="#000" stroke-width="1.1"/>
<line x1="67.9" y1="147.16" x2="70.6" y2="147.16" stroke="#000" stroke-width="1.1"/>
<line x1="67.9" y1="141.94" x2="70.6" y2="141.94" stroke="#000" stroke-width="1.1"/>
<line x1="67.9" y1="136.72" x2="70.6" y2="136.72" stroke="#000" stroke-width="1.1"/>
<line x1="64.8" y1="131.50" x2="70.6" y2="131.50" stroke="#000" stroke-width="1.35"/>
<text x="60.8" y="134.20" text-anchor="end" class="tk">175</text>
<line x1="67.9" y1="126.55" x2="70.6" y2="126.55" stroke="#000" stroke-width="1.1"/>
<line x1="67.9" y1="121.60" x2="70.6" y2="121.60" stroke="#000" stroke-width="1.1"/>
<line x1="67.9" y1="116.65" x2="70.6" y2="116.65" stroke="#000" stroke-width="1.1"/>
<line x1="67.9" y1="111.70" x2="70.6" y2="111.70" stroke="#000" stroke-width="1.1"/>
<line x1="64.8" y1="106.75" x2="70.6" y2="106.75" stroke="#000" stroke-width="1.35"/>
<text x="60.8" y="109.45" text-anchor="end" class="tk">200</text>
<line x1="67.9" y1="101.70" x2="70.6" y2="101.70" stroke="#000" stroke-width="1.1"/>
<line x1="67.9" y1="96.65" x2="70.6" y2="96.65" stroke="#000" stroke-width="1.1"/>
<line x1="67.9" y1="91.60" x2="70.6" y2="91.60" stroke="#000" stroke-width="1.1"/>
<line x1="67.9" y1="86.55" x2="70.6" y2="86.55" stroke="#000" stroke-width="1.1"/>
<line x1="64.8" y1="81.50" x2="70.6" y2="81.50" stroke="#000" stroke-width="1.35"/>
<text x="60.8" y="84.20" text-anchor="end" class="tk">225</text>
<line x1="67.9" y1="76.46" x2="70.6" y2="76.46" stroke="#000" stroke-width="1.1"/>
<line x1="67.9" y1="71.42" x2="70.6" y2="71.42" stroke="#000" stroke-width="1.1"/>
<line x1="67.9" y1="66.38" x2="70.6" y2="66.38" stroke="#000" stroke-width="1.1"/>
<line x1="67.9" y1="61.34" x2="70.6" y2="61.34" stroke="#000" stroke-width="1.1"/>
<line x1="64.8" y1="56.30" x2="70.6" y2="56.30" stroke="#000" stroke-width="1.35"/>
<text x="60.8" y="59.00" text-anchor="end" class="tk">250</text>
<line x1="67.9" y1="51.32" x2="70.6" y2="51.32" stroke="#000" stroke-width="1.1"/>
<line x1="67.9" y1="46.34" x2="70.6" y2="46.34" stroke="#000" stroke-width="1.1"/>
<line x1="67.9" y1="41.36" x2="70.6" y2="41.36" stroke="#000" stroke-width="1.1"/>
<line x1="67.9" y1="36.38" x2="70.6" y2="36.38" stroke="#000" stroke-width="1.1"/>
<line x1="64.8" y1="31.40" x2="70.6" y2="31.40" stroke="#000" stroke-width="1.35"/>
<text x="60.8" y="34.10" text-anchor="end" class="tk">275</text>
<line x1="67.9" y1="313.89" x2="70.6" y2="313.89" stroke="#000" stroke-width="1.1"/>
<line x1="93.25" y1="319.3" x2="93.25" y2="324.6" stroke="#000" stroke-width="1.3"/>
<text x="93.25" y="336.7" text-anchor="middle" class="tk" font-size="12.3">0</text>
<line x1="137.75" y1="319.3" x2="137.75" y2="324.6" stroke="#000" stroke-width="1.3"/>
<text x="137.75" y="336.7" text-anchor="middle" class="tk" font-size="12.3">10</text>
<line x1="182.25" y1="319.3" x2="182.25" y2="324.6" stroke="#000" stroke-width="1.3"/>
<text x="182.25" y="336.7" text-anchor="middle" class="tk" font-size="12.3">12</text>
<line x1="226.9" y1="319.3" x2="226.9" y2="324.6" stroke="#000" stroke-width="1.3"/>
<text x="226.9" y="336.7" text-anchor="middle" class="tk" font-size="12.3">14-15</text>
<line x1="271.0" y1="319.3" x2="271.0" y2="324.6" stroke="#000" stroke-width="1.3"/>
<text x="271.0" y="336.7" text-anchor="middle" class="tk" font-size="12.3">17</text>
<line x1="315.5" y1="319.3" x2="315.5" y2="324.6" stroke="#000" stroke-width="1.3"/>
<text x="315.5" y="336.7" text-anchor="middle" class="tk" font-size="12.3">19</text>
<line x1="360.0" y1="319.3" x2="360.0" y2="324.6" stroke="#000" stroke-width="1.3"/>
<text x="360.0" y="336.7" text-anchor="middle" class="tk" font-size="12.3">21-22</text>
<line x1="404.4" y1="319.3" x2="404.4" y2="324.6" stroke="#000" stroke-width="1.3"/>
<text x="404.4" y="336.7" text-anchor="middle" class="tk" font-size="12.3">24-25</text>
<line x1="449.0" y1="319.3" x2="449.0" y2="324.6" stroke="#000" stroke-width="1.3"/>
<text x="449.0" y="336.7" text-anchor="middle" class="tk" font-size="12.3">26</text>
<line x1="493.6" y1="319.3" x2="493.6" y2="324.6" stroke="#000" stroke-width="1.3"/>
<line x1="70.6" y1="232.7" x2="520" y2="232.7" stroke="#000" stroke-width="1.5" stroke-dasharray="9.6 9.0"/>
<text x="290" y="363" text-anchor="middle" class="xt">Days After Injection</text>
<text transform="translate(15.90,247.46) rotate(-90) scale(0.9563,1.0)" class="yt" font-size="20.5">Tumor</text>
<text transform="translate(15.90,187.15) rotate(-90) scale(0.9246,1.0)" class="yt" font-size="20.5">Diameter</text>
<text transform="translate(14.22,107.64) rotate(-90) scale(0.9542,0.8655)" class="yt" font-size="20.5">(</text>
<text transform="translate(15.90,100.04) rotate(-90) scale(0.8872,1.0)" class="yt" font-size="20.5">mm</text>
<text transform="translate(12.40,65.15) rotate(-90) scale(1.2153,1.06)" class="yt" font-size="14">2</text>
<text transform="translate(14.22,57.38) rotate(-90) scale(0.9316,0.8655)" class="yt" font-size="20.5">)</text>
</g>
<text transform="translate(-0.2,751.20) scale(1.0,1)" class="pl">C</text>
<g transform="translate(0,731.0)">
<line x1="130.10" y1="174.40" x2="144.70" y2="174.40" stroke="#000" stroke-width="2.3"/>
</g>
<g transform="translate(0,731.0)" stroke="#000" stroke-width="1.45">
<circle cx="92.60" cy="309.00" r="3.0" fill="#dedede"/>
<circle cx="137.50" cy="106.50" r="3.0" fill="#dedede"/>
<circle cx="137.50" cy="112.50" r="3.0" fill="#dedede"/>
<circle cx="137.50" cy="127.50" r="3.0" fill="#dedede"/>
<circle cx="137.50" cy="148.40" r="3.0" fill="#dedede"/>
<circle cx="137.50" cy="177.50" r="3.0" fill="#dedede"/>
<circle cx="137.50" cy="174.40" r="3.0" fill="#dedede"/>
<circle cx="137.50" cy="184.40" r="3.0" fill="#dedede"/>
<circle cx="137.50" cy="197.20" r="3.0" fill="#dedede"/>
<circle cx="137.50" cy="243.00" r="3.0" fill="#dedede"/>
<circle cx="137.50" cy="248.50" r="3.0" fill="#dedede"/>
<circle cx="177.85" cy="56.50" r="3.0" fill="#dedede"/>
<circle cx="185.10" cy="56.50" r="3.0" fill="#dedede"/>
<circle cx="181.60" cy="62.00" r="3.0" fill="#dedede"/>
<circle cx="181.60" cy="73.50" r="3.0" fill="#dedede"/>
<circle cx="181.60" cy="144.00" r="3.0" fill="#dedede"/>
<circle cx="181.60" cy="149.40" r="3.0" fill="#dedede"/>
<circle cx="181.60" cy="157.10" r="3.0" fill="#dedede"/>
<circle cx="181.60" cy="172.10" r="3.0" fill="#dedede"/>
<circle cx="181.60" cy="218.00" r="3.0" fill="#dedede"/>
<circle cx="222.75" cy="53.00" r="3.0" fill="#dedede"/>
<circle cx="230.00" cy="53.00" r="3.0" fill="#dedede"/>
<circle cx="222.75" cy="60.00" r="3.0" fill="#dedede"/>
<circle cx="230.00" cy="60.00" r="3.0" fill="#dedede"/>
<circle cx="226.35" cy="106.30" r="3.0" fill="#dedede"/>
<circle cx="226.35" cy="112.10" r="3.0" fill="#dedede"/>
<circle cx="226.35" cy="117.80" r="3.0" fill="#dedede"/>
<circle cx="226.35" cy="126.70" r="3.0" fill="#dedede"/>
<circle cx="226.35" cy="212.25" r="3.0" fill="#dedede"/>
<circle cx="260.50" cy="53.00" r="3.0" fill="#dedede"/>
<circle cx="267.75" cy="53.00" r="3.0" fill="#dedede"/>
<circle cx="274.75" cy="53.00" r="3.0" fill="#dedede"/>
<circle cx="260.50" cy="60.00" r="3.0" fill="#dedede"/>
<circle cx="267.75" cy="60.00" r="3.0" fill="#dedede"/>
<circle cx="274.75" cy="60.00" r="3.0" fill="#dedede"/>
<circle cx="281.75" cy="60.00" r="3.0" fill="#dedede"/>
<circle cx="270.75" cy="86.00" r="3.0" fill="#dedede"/>
<circle cx="270.75" cy="113.25" r="3.0" fill="#dedede"/>
<circle cx="270.75" cy="201.00" r="3.0" fill="#dedede"/>
<circle cx="305.00" cy="53.00" r="3.0" fill="#dedede"/>
<circle cx="312.25" cy="53.00" r="3.0" fill="#dedede"/>
<circle cx="319.25" cy="53.00" r="3.0" fill="#dedede"/>
<circle cx="326.25" cy="53.00" r="3.0" fill="#dedede"/>
<circle cx="305.00" cy="60.00" r="3.0" fill="#dedede"/>
<circle cx="312.25" cy="60.00" r="3.0" fill="#dedede"/>
<circle cx="319.25" cy="60.00" r="3.0" fill="#dedede"/>
<circle cx="326.25" cy="60.00" r="3.0" fill="#dedede"/>
<circle cx="315.00" cy="69.75" r="3.0" fill="#dedede"/>
<circle cx="315.00" cy="198.50" r="3.0" fill="#dedede"/>
<circle cx="345.75" cy="53.00" r="3.0" fill="#dedede"/>
<circle cx="353.00" cy="53.00" r="3.0" fill="#dedede"/>
<circle cx="360.00" cy="53.00" r="3.0" fill="#dedede"/>
<circle cx="367.00" cy="53.00" r="3.0" fill="#dedede"/>
<circle cx="345.75" cy="60.00" r="3.0" fill="#dedede"/>
<circle cx="353.00" cy="60.00" r="3.0" fill="#dedede"/>
<circle cx="360.00" cy="60.00" r="3.0" fill="#dedede"/>
<circle cx="367.00" cy="60.00" r="3.0" fill="#dedede"/>
<circle cx="374.00" cy="60.00" r="3.0" fill="#dedede"/>
<circle cx="359.75" cy="128.75" r="3.0" fill="#dedede"/>
<circle cx="390.00" cy="53.00" r="3.0" fill="#dedede"/>
<circle cx="397.25" cy="53.00" r="3.0" fill="#dedede"/>
<circle cx="404.25" cy="53.00" r="3.0" fill="#dedede"/>
<circle cx="411.25" cy="53.00" r="3.0" fill="#dedede"/>
<circle cx="390.00" cy="60.00" r="3.0" fill="#dedede"/>
<circle cx="397.25" cy="60.00" r="3.0" fill="#dedede"/>
<circle cx="404.25" cy="60.00" r="3.0" fill="#dedede"/>
<circle cx="411.25" cy="60.00" r="3.0" fill="#dedede"/>
<circle cx="418.25" cy="60.00" r="3.0" fill="#dedede"/>
<circle cx="404.25" cy="69.75" r="3.0" fill="#dedede"/>
<circle cx="434.25" cy="53.00" r="3.0" fill="#dedede"/>
<circle cx="441.25" cy="53.00" r="3.0" fill="#dedede"/>
<circle cx="448.25" cy="53.00" r="3.0" fill="#dedede"/>
<circle cx="455.50" cy="53.00" r="3.0" fill="#dedede"/>
<circle cx="462.50" cy="53.00" r="3.0" fill="#dedede"/>
<circle cx="434.25" cy="60.00" r="3.0" fill="#dedede"/>
<circle cx="441.25" cy="60.00" r="3.0" fill="#dedede"/>
<circle cx="448.25" cy="60.00" r="3.0" fill="#dedede"/>
<circle cx="455.50" cy="60.00" r="3.0" fill="#dedede"/>
<circle cx="462.50" cy="60.00" r="3.0" fill="#dedede"/>
</g>
<g transform="translate(0,731.0)">
<line x1="174.70" y1="146.20" x2="188.80" y2="146.20" stroke="#000" stroke-width="2.3"/>
<line x1="219.10" y1="108.40" x2="233.50" y2="108.40" stroke="#000" stroke-width="2.3"/>
<line x1="264.00" y1="56.30" x2="279.00" y2="56.30" stroke="#000" stroke-width="2.3"/>
<line x1="308.75" y1="56.30" x2="322.50" y2="56.30" stroke="#000" stroke-width="2.3"/>
<line x1="349.00" y1="56.30" x2="364.00" y2="56.30" stroke="#000" stroke-width="2.3"/>
<line x1="393.50" y1="56.30" x2="408.00" y2="56.30" stroke="#000" stroke-width="2.3"/>
<line x1="441.00" y1="56.30" x2="456.00" y2="56.30" stroke="#000" stroke-width="2.3"/>
</g>
</svg>
</body></html>
